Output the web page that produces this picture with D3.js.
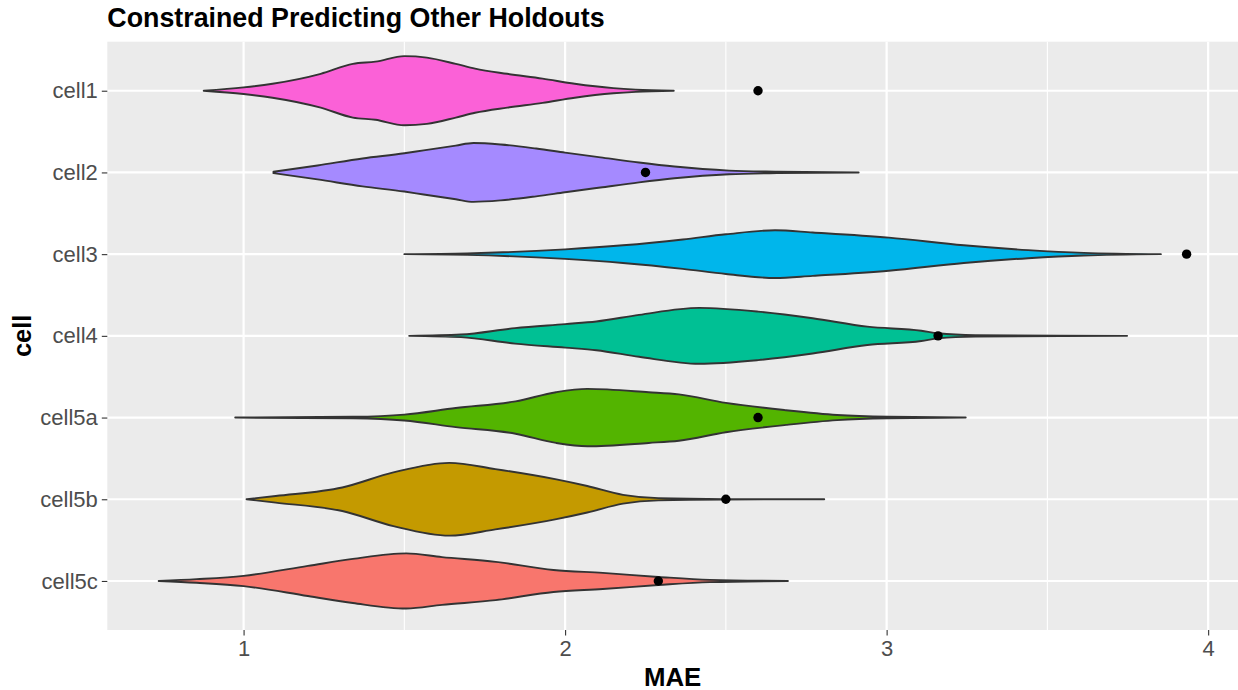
<!DOCTYPE html>
<html>
<head>
<meta charset="utf-8">
<script src="https://cdn.jsdelivr.net/npm/d3@7"></script>
<style>
  html, body { margin: 0; padding: 0; background: #ffffff; }
  svg { display: block; font-family: "Liberation Sans", Arial, Helvetica, sans-serif; }
</style>
</head>
<body>
<svg id="chart" width="1238" height="690"></svg>
<script>
// ---------- data ----------
const categories = ["cell1", "cell2", "cell3", "cell4", "cell5a", "cell5b", "cell5c"];
const colors = ["#FB61D7", "#A58AFF", "#00B6EB", "#00C094", "#53B400", "#C49A00", "#F8766D"];

// violin outlines: [MAE, relative density]
const cell1Density = [[0.876,0],[1.0,0.09],[1.09,0.19],[1.24,0.46],[1.34,0.73],[1.41,0.79],[1.5,0.94],[1.57,0.90],[1.66,0.73],[1.72,0.60],[1.82,0.46],[1.93,0.33],[2.03,0.19],[2.15,0.07],[2.22,0.03],[2.338,0]];
const cell2Density = [[1.093,0.02],[1.23,0.19],[1.37,0.38],[1.5,0.52],[1.56,0.60],[1.66,0.73],[1.715,0.80],[1.80,0.76],[1.91,0.65],[2.0,0.54],[2.11,0.41],[2.23,0.27],[2.34,0.16],[2.51,0.05],[2.66,0.02],[2.913,0]];
const cell3Density = [[1.5,0],[1.695,0.02],[2.0,0.13],[2.18,0.24],[2.366,0.40],[2.5,0.54],[2.653,0.65],[2.77,0.59],[3.007,0.45],[3.24,0.24],[3.44,0.11],[3.613,0.035],[3.853,0]];
const cell4Density = [[1.515,0],[1.676,0.035],[1.844,0.21],[2.0,0.32],[2.097,0.39],[2.23,0.57],[2.417,0.76],[2.6,0.66],[2.77,0.48],[2.94,0.25],[3.108,0.14],[3.16,0.07],[3.276,0.02],[3.748,0]];
const cell5aDensity = [[0.974,0],[1.34,0.02],[1.5,0.08],[1.66,0.26],[1.846,0.44],[1.972,0.69],[2.069,0.78],[2.26,0.69],[2.354,0.63],[2.5,0.40],[2.687,0.20],[2.846,0.07],[3.005,0.02],[3.246,0]];
const cell5bDensity = [[1.009,0],[1.10,0.09],[1.307,0.32],[1.466,0.73],[1.64,0.99],[1.783,0.82],[1.973,0.54],[2.069,0.36],[2.18,0.12],[2.29,0.03],[2.5,0.005],[2.806,0]];
const cell5cDensity = [[0.736,0],[0.854,0.05],[1.0,0.14],[1.2,0.41],[1.34,0.60],[1.506,0.75],[1.617,0.65],[1.784,0.52],[1.964,0.30],[2.117,0.22],[2.29,0.11],[2.45,0.03],[2.693,0]];
const densities = [cell1Density, cell2Density, cell3Density, cell4Density, cell5aDensity, cell5bDensity, cell5cDensity];

// single points (holdout MAE)
const pointValues = [2.60, 2.25, 3.933, 3.16, 2.60, 2.50, 2.29];

const xTicks = [1, 2, 3, 4];
const xMinorTicks = [1.5, 2.5, 3.5];

const titleText = "Constrained Predicting Other Holdouts";
const xTitle = "MAE";
const yTitle = "cell";

// ---------- layout ----------
const W = 1238, H = 690;
const panel = { left: 107.3, right: 1238, top: 41.7, bottom: 630 };

const svg = d3.select("#chart");
svg.append("rect").attr("width", W).attr("height", H).attr("fill", "#ffffff");

// x domain: data range expanded 5%
const allX = densities.flat().map(d => d[0]).concat(pointValues);
const xmin = d3.min(allX), xmax = d3.max(allX);
const ex = (xmax - xmin) * 0.05;
const x = d3.scaleLinear().domain([xmin - ex, xmax + ex]).range([panel.left, panel.right]);

const y = d3.scalePoint().domain(categories).range([panel.top, panel.bottom]).padding(0.6);
const step = y.step();
const w = d3.scaleLinear().domain([0, 1]).range([0, 0.45 * step]);

// panel background
svg.append("rect")
  .attr("x", panel.left).attr("y", panel.top)
  .attr("width", panel.right - panel.left).attr("height", panel.bottom - panel.top)
  .attr("fill", "#EBEBEB");

// grid
const grid = svg.append("g");
grid.selectAll(".minor").data(xMinorTicks).enter().append("line")
  .attr("x1", d => x(d)).attr("x2", d => x(d))
  .attr("y1", panel.top).attr("y2", panel.bottom)
  .attr("stroke", "#ffffff").attr("stroke-width", 1.1);
grid.selectAll(".major").data(xTicks).enter().append("line")
  .attr("x1", d => x(d)).attr("x2", d => x(d))
  .attr("y1", panel.top).attr("y2", panel.bottom)
  .attr("stroke", "#ffffff").attr("stroke-width", 2.2);
grid.selectAll(".hmajor").data(categories).enter().append("line")
  .attr("x1", panel.left).attr("x2", panel.right)
  .attr("y1", d => y(d)).attr("y2", d => y(d))
  .attr("stroke", "#ffffff").attr("stroke-width", 2.2);

// violins
const vg = svg.append("g");
categories.forEach((c, i) => {
  const cy = y(c);
  const area = d3.area()
    .x(d => x(d[0]))
    .y0(d => cy + w(d[1]))
    .y1(d => cy - w(d[1]))
    .curve(d3.curveMonotoneX);
  vg.append("path")
    .datum(densities[i])
    .attr("d", area)
    .attr("fill", colors[i])
    .attr("stroke", "#333333")
    .attr("stroke-width", 1.9)
    .attr("stroke-linejoin", "round");
});

// points
svg.append("g").selectAll("circle").data(categories).enter().append("circle")
  .attr("cx", (d, i) => x(pointValues[i]))
  .attr("cy", d => y(d))
  .attr("r", 4.7)
  .attr("fill", "#000000");

// axes
const xAxis = d3.axisBottom(x).tickValues(xTicks).tickSize(5.5).tickPadding(5).tickFormat(d3.format("d"));
const gx = svg.append("g").attr("transform", `translate(0,${panel.bottom})`).call(xAxis);
gx.select(".domain").remove();
gx.selectAll(".tick line").attr("stroke", "#333333").attr("stroke-width", 1.1);
gx.selectAll(".tick text").attr("fill", "#4D4D4D").attr("font-size", 22)
  .attr("font-family", "'Liberation Sans', Arial, sans-serif");

const yAxis = d3.axisLeft(y).tickSize(5.5).tickPadding(4);
const gy = svg.append("g").attr("transform", `translate(${panel.left},0)`).call(yAxis);
gy.select(".domain").remove();
gy.selectAll(".tick line").attr("stroke", "#333333").attr("stroke-width", 1.1);
gy.selectAll(".tick text").attr("fill", "#4D4D4D").attr("font-size", 22)
  .attr("font-family", "'Liberation Sans', Arial, sans-serif");

// titles
svg.append("text")
  .attr("x", panel.left).attr("y", 27)
  .attr("font-size", 26.8).attr("font-weight", "bold").attr("fill", "#000")
  .text(titleText);

svg.append("text")
  .attr("x", (panel.left + panel.right) / 2).attr("y", 686)
  .attr("text-anchor", "middle")
  .attr("font-size", 25.8).attr("font-weight", "bold").attr("fill", "#000")
  .text(xTitle);

svg.append("text")
  .attr("transform", `translate(31,${(panel.top + panel.bottom) / 2}) rotate(-90)`)
  .attr("text-anchor", "middle")
  .attr("font-size", 25.5).attr("font-weight", "bold").attr("fill", "#000")
  .text(yTitle);
</script>
</body>
</html>
